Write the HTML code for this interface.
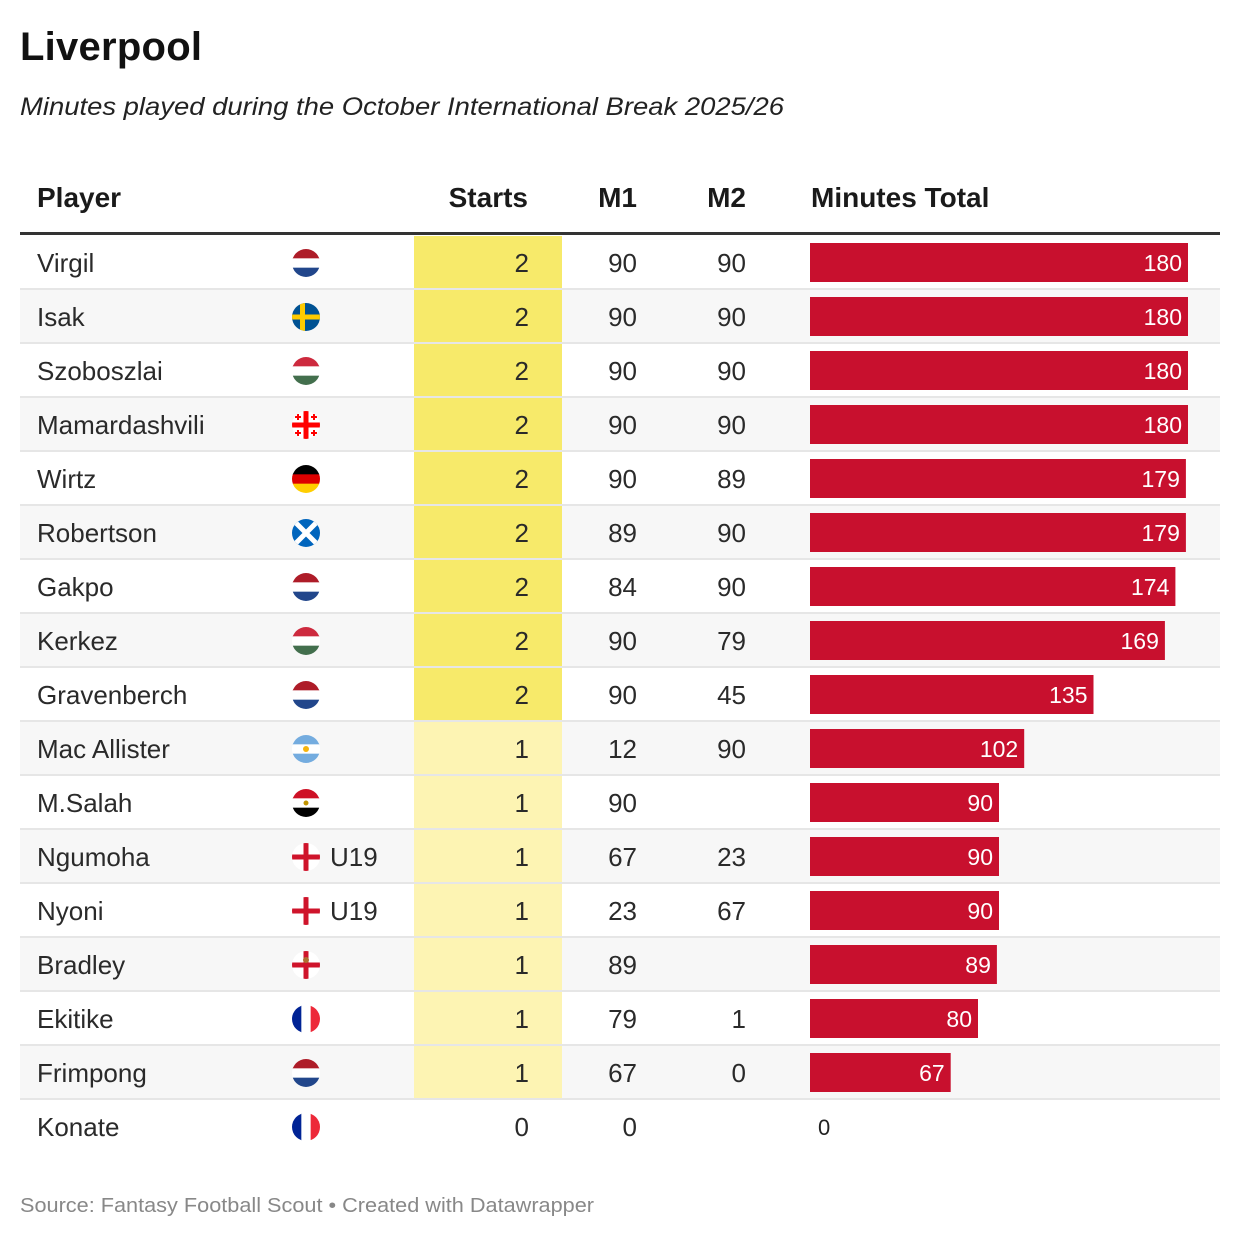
<!DOCTYPE html>
<html><head><meta charset="utf-8"><style>
body{margin:0;background:#fff;}
svg{display:block;font-family:"Liberation Sans",sans-serif;}
</style></head><body>
<svg id="c" width="1240" height="1238" viewBox="0 0 1240 1238">
<text x="20" y="60" font-size="40" font-weight="bold" fill="#111" textLength="182">Liverpool</text>
<text x="20" y="115" font-size="25" font-style="italic" fill="#222" textLength="764" lengthAdjust="spacingAndGlyphs">Minutes played during the October International Break 2025/26</text>
<g font-size="28" font-weight="bold" fill="#1a1a1a">
<text x="37" y="207">Player</text>
<text x="528" y="207" text-anchor="end">Starts</text>
<text x="637" y="207" text-anchor="end">M1</text>
<text x="746" y="207" text-anchor="end">M2</text>
<text x="811" y="207">Minutes Total</text>
</g>
<rect x="20" y="232" width="1200" height="3" fill="#333"/>
<g id="rows"></g>
<text x="20" y="1212" font-size="20" fill="#888" textLength="574" lengthAdjust="spacingAndGlyphs">Source: Fantasy Football Scout • Created with Datawrapper</text>
</svg>
<script>
const players=["Virgil","Isak","Szoboszlai","Mamardashvili","Wirtz","Robertson","Gakpo","Kerkez","Gravenberch","Mac Allister","M.Salah","Ngumoha","Nyoni","Bradley","Ekitike","Frimpong","Konate"];
const flags=["nl","se","hu","ge","de","sco","nl","hu","nl","ar","eg","en","en","ni","fr","nl","fr"];
const notes=["","","","","","","","","","","","U19","U19","","","",""];
const starts=[2,2,2,2,2,2,2,2,2,1,1,1,1,1,1,1,0];
const m1=[90,90,90,90,90,89,84,90,90,12,90,67,23,89,79,67,0];
const m2=[90,90,90,90,89,90,90,79,45,90,null,23,67,null,1,0,null];
const totals=[180,180,180,180,179,179,174,169,135,102,90,90,90,89,80,67,0];

const NS="http://www.w3.org/2000/svg";
const g=document.getElementById('rows');
const x0=810, pxPerMin=378/180;
const xScale=v=>x0+v*pxPerMin;
function mk(tag,attrs,parent){const e=document.createElementNS(NS,tag);for(const k in attrs)e.setAttribute(k,attrs[k]);(parent||g).appendChild(e);return e;}
function flag(code,cx,cy,i){
  const fg=mk('g',{});
  
  
  const cp=mk('clipPath',{id:'cp'+i},fg);mk('circle',{cx:cx,cy:cy,r:14},cp);
  const h=mk('g',{'clip-path':'url(#cp'+i+')'},fg);
  const L=cx-14,T=cy-14;
  const hs=(c)=>c.forEach((col,k)=>mk('rect',{x:L,y:T+k*28/3,width:28,height:28/3+0.5,fill:col},h));
  const vs=(c)=>c.forEach((col,k)=>mk('rect',{x:L+k*28/3,y:T,width:28/3+0.5,height:28,fill:col},h));
  if(code=='nl')hs(['#ae1c28','#fff','#21468b']);
  if(code=='hu')hs(['#cd2a3e','#fff','#436f4d']);
  if(code=='de')hs(['#000','#dd0000','#ffce00']);
  if(code=='eg'){hs(['#ce1126','#fff','#000']);mk('circle',{cx:cx,cy:cy,r:2.5,fill:'#c09300'},h);}
  if(code=='ar'){hs(['#74acdf','#fff','#74acdf']);mk('circle',{cx:cx,cy:cy,r:3,fill:'#f6b40e'},h);}
  if(code=='fr')vs(['#002395','#fff','#ed2939']);
  if(code=='se'){mk('rect',{x:L,y:T,width:28,height:28,fill:'#005293'},h);mk('rect',{x:cx-6,y:T,width:5,height:28,fill:'#fecb00'},h);mk('rect',{x:L,y:cy-2.5,width:28,height:5,fill:'#fecb00'},h);}
  if(code=='sco'){mk('rect',{x:L,y:T,width:28,height:28,fill:'#0065bd'},h);mk('path',{d:`M${L} ${T}L${L+28} ${T+28}M${L+28} ${T}L${L} ${T+28}`,stroke:'#fff','stroke-width':5},h);}
  if(code=='en'||code=='ni'||code=='ge'){mk('rect',{x:L,y:T,width:28,height:28,fill:'#fff'},h);mk('rect',{x:cx-2.5,y:T,width:5,height:28,fill:code=='ge'?'#ff0000':'#cf142b'},h);mk('rect',{x:L,y:cy-2.5,width:28,height:5,fill:code=='ge'?'#ff0000':'#cf142b'},h);}
  if(code=='ni'){mk('circle',{cx:cx,cy:cy-5,r:3,fill:'#b07030'},h);}
  if(code=='ge'){[[-1,-1],[1,-1],[-1,1],[1,1]].forEach(([a,b])=>{mk('rect',{x:cx+a*8-3,y:cy+b*8-1,width:6,height:2,fill:'#f00'},h);mk('rect',{x:cx+a*8-1,y:cy+b*8-3,width:2,height:6,fill:'#f00'},h);});}
}
players.forEach((p,i)=>{
  const top=236+i*54, cy=top+27, ty=cy+9;
  const row=mk('g',{});
  
  
  if(i%2==1)mk('rect',{x:20,y:top,width:1200,height:54,fill:'#f7f7f7'},row);
  if(starts[i]>0){const hl=mk('rect',{x:414,y:top,width:148,height:54,fill:starts[i]==2?'#f7ea6a':'#fdf4b3'},row);
    }
  if(i<players.length-1)mk('rect',{x:20,y:top+52,width:1200,height:2,fill:'#e6e6e6'},row);
  const t=(x,s,anchor,extra)=>{const e=mk('text',Object.assign({x:x,y:ty,'font-size':26,fill:'#2a2a2a','text-anchor':anchor},extra||{}),row);e.textContent=s;return e;};
  const n=t(37,p,'start');
  g.appendChild(row);
  flag(flags[i],306,cy,i);
  if(notes[i]){const u=t(330,notes[i],'start');}
  const s=t(529,starts[i],'end');
  const a=t(637,m1[i],'end');
  if(m2[i]!==null){const b=t(746,m2[i],'end');}
  if(totals[i]>0){
    const bar=mk('rect',{x:x0,y:top+7,width:xScale(totals[i])-x0,height:39,fill:'#c8102e'},row);
    
    const l=mk('text',{x:xScale(totals[i])-6,y:cy+8,'font-size':23,fill:'#fff','text-anchor':'end'},row);l.textContent=totals[i];
    
  } else {
    const l=mk('text',{x:x0+8,y:cy+8,'font-size':22,fill:'#222'},row);l.textContent=totals[i];
    
  }
});
</script>
</body></html>
